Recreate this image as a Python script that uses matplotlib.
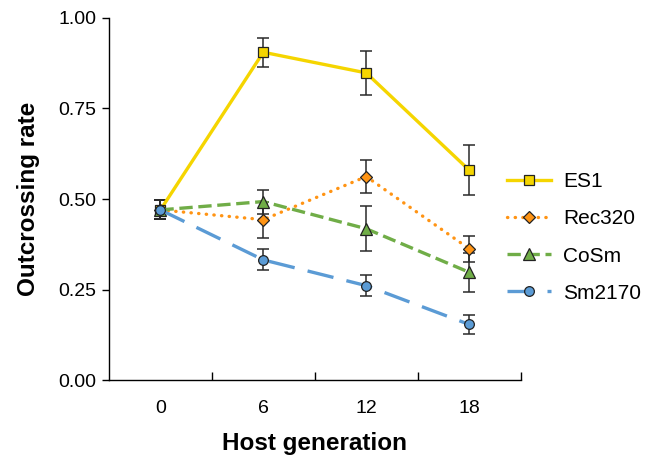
import numpy as np
import matplotlib
matplotlib.use('Agg')
import matplotlib.pyplot as plt

plt.rcParams['font.family'] = ['Liberation Sans', 'DejaVu Sans']

generations = ['0', '6', '12', '18']
series_names = ['ES1', 'Rec320', 'CoSm', 'Sm2170']

es1 = [0.470, 0.905, 0.848, 0.580]
es1_err = [0.026, 0.040, 0.060, 0.068]
rec320 = [0.470, 0.443, 0.562, 0.363]
rec320_err = [0.026, 0.050, 0.046, 0.036]
cosm = [0.470, 0.493, 0.418, 0.298]
cosm_err = [0.026, 0.033, 0.062, 0.054]
sm2170 = [0.470, 0.332, 0.261, 0.154]
sm2170_err = [0.026, 0.029, 0.028, 0.026]

colors = ['#F5D500', '#FF9414', '#70AD47', '#5B9BD5']
markers = ['s', 'D', '^', 'o']
msizes = [7, 6, 8, 7]
styles = ['-', (0, (0.1, 2.2)), (0, (4, 1.7)), (0, (8, 4))]

fig = plt.figure(figsize=(6.45, 4.57), dpi=100)
ax = fig.add_axes([0.169, 0.168, 0.638, 0.793])

x = np.arange(len(generations))
data = [(es1, es1_err), (rec320, rec320_err), (cosm, cosm_err), (sm2170, sm2170_err)]
for i, (vals, err) in enumerate(data):
    ax.errorbar(x, vals, yerr=err, fmt='none', ecolor='#2a2a2a',
                elinewidth=1.1, capsize=4.5, capthick=1.1, zorder=2)
for i, (vals, err) in enumerate(data):
    ax.plot(x, vals, linestyle=styles[i], color=colors[i], lw=2.4,
            marker=markers[i], markersize=msizes[i], markerfacecolor=colors[i],
            markeredgecolor='#222222', markeredgewidth=0.9,
            dash_capstyle='round' if i == 1 else 'butt',
            label=series_names[i], zorder=3 + i)

ax.set_xlim(-0.5, 3.5)
ax.set_ylim(0, 1.0)
ax.set_yticks([0, 0.25, 0.5, 0.75, 1.0])
ax.set_yticklabels(['0.00', '0.25', '0.50', '0.75', '1.00'])
ax.set_xticks(x)
ax.set_xticklabels(generations)
ax.set_xticks([0.5, 1.5, 2.5, 3.5], minor=True)
ax.tick_params(axis='x', which='major', length=0, pad=14, labelsize=14)
ax.tick_params(axis='x', which='minor', length=6, width=1.0, direction='in')
ax.tick_params(axis='y', length=5, width=1.0, labelsize=14, pad=4)
ax.spines['top'].set_visible(False)
ax.spines['right'].set_visible(False)
ax.spines['left'].set_linewidth(1.0)
ax.spines['bottom'].set_linewidth(1.0)

ax.set_xlabel('Host generation', fontsize=17.5, fontweight='bold', labelpad=11)
ax.set_ylabel('Outcrossing rate', fontsize=17.5, fontweight='bold', labelpad=13)

fig.legend(loc='upper left', bbox_to_anchor=(0.757, 0.664), frameon=False,
           fontsize=15, handlelength=2.1, labelspacing=0.87, handletextpad=0.6)

fig.savefig('out.png', dpi=100)
